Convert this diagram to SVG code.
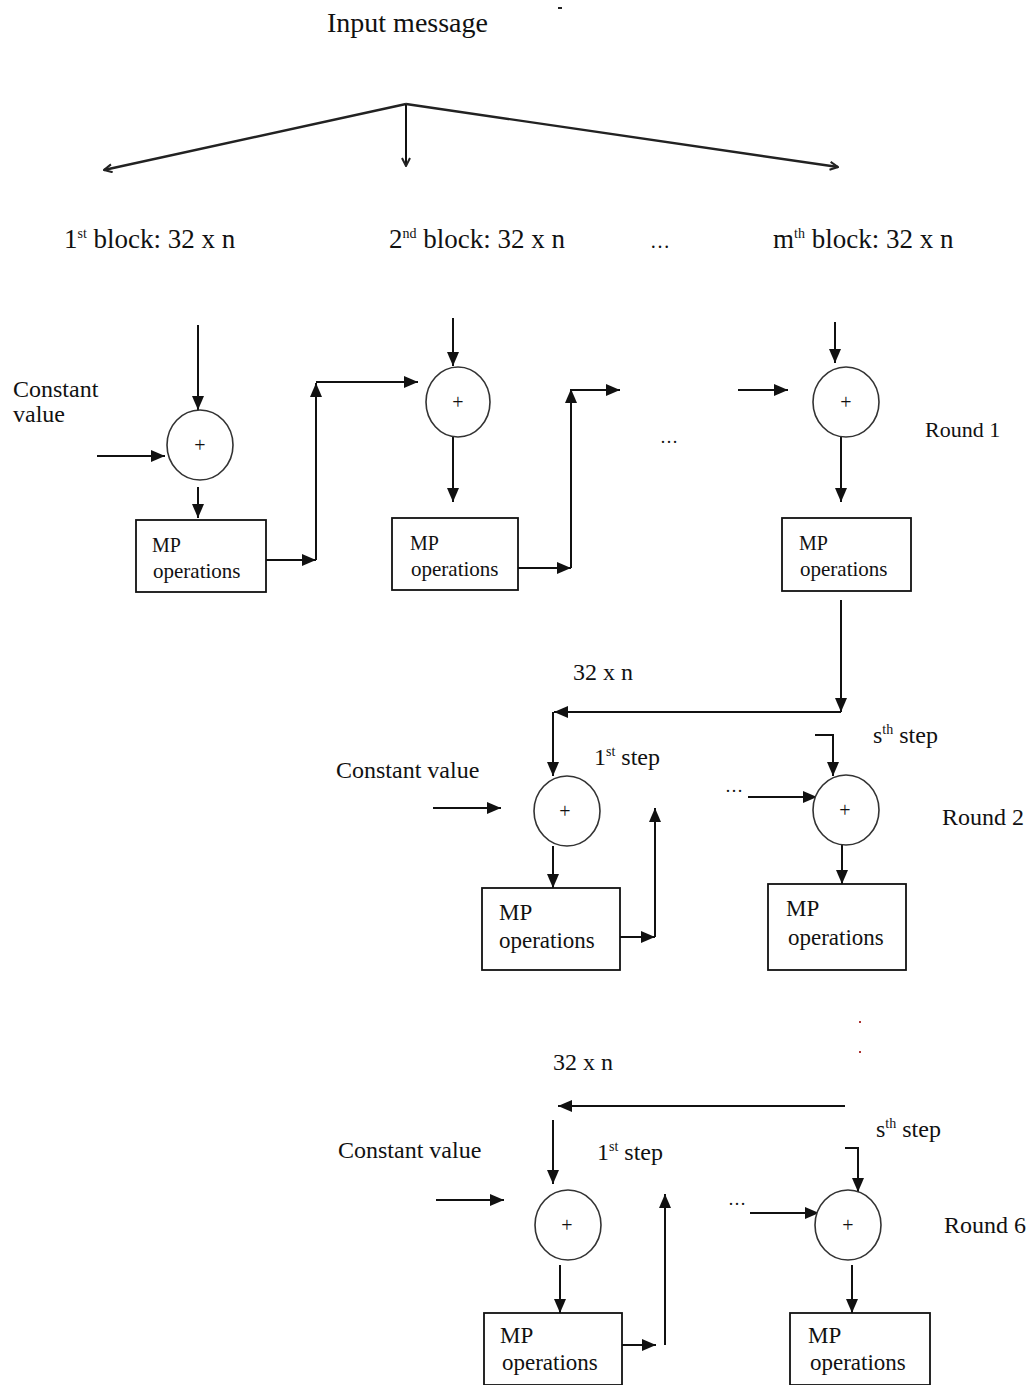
<svg xmlns="http://www.w3.org/2000/svg" width="1031" height="1385" viewBox="0 0 1031 1385">
<style>
text{font-family:"Liberation Serif","Times New Roman",serif;fill:#111}
.c{fill:#fff;stroke:#333;stroke-width:1.6}
.b{fill:#fff;stroke:#111;stroke-width:1.8}
.l{fill:none;stroke:#111;stroke-width:2}
.f{fill:none;stroke:#222;stroke-width:2.4}
.p{font-size:20px}
.sup{font-size:14px}
</style>
<defs>
<marker id="ah" markerWidth="14" markerHeight="12" refX="14" refY="6" orient="auto" markerUnits="userSpaceOnUse"><path d="M0,0 L14,6 L0,12 z" fill="#111"/></marker>
<marker id="av" markerWidth="10" markerHeight="10" refX="9" refY="5" orient="auto" markerUnits="userSpaceOnUse"><path d="M1,1 L9,5 L1,9" fill="none" stroke="#222" stroke-width="2"/></marker>
</defs>
<rect width="1031" height="1385" fill="#fff"/>
<text x="327" y="32" style="font-size:28px">Input message</text>
<rect x="558" y="7" width="4" height="2" fill="#222"/>
<g id="labels">
<text x="64" y="248" style="font-size:27px">1<tspan class="sup" dy="-10">st</tspan><tspan dy="10"> block: 32 x n</tspan></text>
<text x="389" y="248" style="font-size:27px">2<tspan class="sup" dy="-10">nd</tspan><tspan dy="10"> block: 32 x n</tspan></text>
<text x="650" y="248" style="font-size:20px">…</text>
<text x="773" y="248" style="font-size:27px">m<tspan class="sup" dy="-10">th</tspan><tspan dy="10"> block: 32 x n</tspan></text>
<text x="13" y="397" style="font-size:24px">Constant</text>
<text x="13" y="422" style="font-size:24px">value</text>
<text x="660" y="443" style="font-size:18px">…</text>
<text x="925" y="437" style="font-size:22px">Round 1</text>
<text x="573" y="680" style="font-size:24px">32 x n</text>
<text x="336" y="778" style="font-size:24px">Constant value</text>
<text x="594" y="765" style="font-size:24px">1<tspan class="sup" dy="-9">st</tspan><tspan dy="9"> step</tspan></text>
<text x="873" y="743" style="font-size:24px">s<tspan class="sup" dy="-9">th</tspan><tspan dy="9"> step</tspan></text>
<text x="725" y="792" style="font-size:18px">…</text>
<text x="942" y="825" style="font-size:24px">Round 2</text>
<rect x="859" y="1021" width="2" height="2" fill="#a33"/>
<rect x="859" y="1051" width="2" height="2" fill="#a33"/>
<text x="553" y="1070" style="font-size:24px">32 x n</text>
<text x="338" y="1158" style="font-size:24px">Constant value</text>
<text x="597" y="1160" style="font-size:24px">1<tspan class="sup" dy="-9">st</tspan><tspan dy="9"> step</tspan></text>
<text x="876" y="1137" style="font-size:24px">s<tspan class="sup" dy="-9">th</tspan><tspan dy="9"> step</tspan></text>
<text x="728" y="1205" style="font-size:18px">…</text>
<text x="944" y="1233" style="font-size:24px">Round 6</text>
</g>
<g id="connectors">
<path class="f" d="M406,104 L104,170" marker-end="url(#av)"/>
<path class="l" d="M406,104 L406,166" marker-end="url(#av)"/>
<path class="f" d="M406,104 L838,167" marker-end="url(#av)"/>
<path class="l" d="M198,325 L198,410" marker-end="url(#ah)"/>
<path class="l" d="M97,456 L165,456" marker-end="url(#ah)"/>
<path class="l" d="M198,487 L198,518" marker-end="url(#ah)"/>
<path class="l" d="M266,560 L316,560" marker-end="url(#ah)"/>
<path class="l" d="M316,560 L316,383" marker-end="url(#ah)"/>
<path class="l" d="M316,382 L418,382" marker-end="url(#ah)"/>
<path class="l" d="M453,318 L453,366" marker-end="url(#ah)"/>
<path class="l" d="M453,437 L453,502" marker-end="url(#ah)"/>
<path class="l" d="M518,568 L571,568" marker-end="url(#ah)"/>
<path class="l" d="M571,568 L571,389" marker-end="url(#ah)"/>
<path class="l" d="M571,390 L620,390" marker-end="url(#ah)"/>
<path class="l" d="M738,390 L788,390" marker-end="url(#ah)"/>
<path class="l" d="M835,322 L835,363" marker-end="url(#ah)"/>
<path class="l" d="M841,437 L841,502" marker-end="url(#ah)"/>
<path class="l" d="M841,600 L841,712" marker-end="url(#ah)"/>
<path class="l" d="M841,712 L554,712" marker-end="url(#ah)"/>
<path class="l" d="M553,712 L553,776" marker-end="url(#ah)"/>
<path class="l" d="M433,808 L501,808" marker-end="url(#ah)"/>
<path class="l" d="M553,846 L553,888" marker-end="url(#ah)"/>
<path class="l" d="M620,937 L655,937" marker-end="url(#ah)"/>
<path class="l" d="M655,937 L655,808" marker-end="url(#ah)"/>
<path class="l" d="M815,735 L833,735 L833,776" marker-end="url(#ah)"/>
<path class="l" d="M748,797 L817,797" marker-end="url(#ah)"/>
<path class="l" d="M842,845 L842,884" marker-end="url(#ah)"/>
<path class="l" d="M845,1106 L558,1106" marker-end="url(#ah)"/>
<path class="l" d="M553,1120 L553,1184" marker-end="url(#ah)"/>
<path class="l" d="M436,1200 L504,1200" marker-end="url(#ah)"/>
<path class="l" d="M560,1265 L560,1313" marker-end="url(#ah)"/>
<path class="l" d="M622,1345 L656,1345" marker-end="url(#ah)"/>
<path class="l" d="M665,1345 L665,1194" marker-end="url(#ah)"/>
<path class="l" d="M845,1148 L858,1148 L858,1192" marker-end="url(#ah)"/>
<path class="l" d="M750,1213 L819,1213" marker-end="url(#ah)"/>
<path class="l" d="M852,1265 L852,1313" marker-end="url(#ah)"/>
</g>
<g id="sum1"><ellipse class="c" cx="200" cy="445" rx="33" ry="35"/><text class="p" x="200" y="452" text-anchor="middle">+</text></g>
<g id="mp1"><rect class="b" x="136" y="520" width="130" height="72"/><text x="152" y="552" style="font-size:20px">MP</text><text x="153" y="578" style="font-size:21px">operations</text></g>
<g id="sum2"><ellipse class="c" cx="458" cy="402" rx="32" ry="35"/><text class="p" x="458" y="409" text-anchor="middle">+</text></g>
<g id="mp2"><rect class="b" x="392" y="518" width="126" height="72"/><text x="410" y="550" style="font-size:20px">MP</text><text x="411" y="576" style="font-size:21px">operations</text></g>
<g id="sum3"><ellipse class="c" cx="846" cy="402" rx="33" ry="35"/><text class="p" x="846" y="409" text-anchor="middle">+</text></g>
<g id="mp3"><rect class="b" x="782" y="518" width="129" height="73"/><text x="799" y="550" style="font-size:20px">MP</text><text x="800" y="576" style="font-size:21px">operations</text></g>
<g id="r2sum1"><ellipse class="c" cx="567" cy="811" rx="33" ry="35"/><text class="p" x="565" y="818" text-anchor="middle">+</text></g>
<g id="r2mp1"><rect class="b" x="482" y="888" width="138" height="82"/><text x="499" y="920" style="font-size:23px">MP</text><text x="499" y="948" style="font-size:23px">operations</text></g>
<g id="r2sum2"><ellipse class="c" cx="846" cy="810" rx="33" ry="35"/><text class="p" x="845" y="817" text-anchor="middle">+</text></g>
<g id="r2mp2"><rect class="b" x="768" y="884" width="138" height="86"/><text x="786" y="916" style="font-size:23px">MP</text><text x="788" y="945" style="font-size:23px">operations</text></g>
<g id="r6sum1"><ellipse class="c" cx="568" cy="1225" rx="33" ry="35"/><text class="p" x="567" y="1232" text-anchor="middle">+</text></g>
<g id="r6mp1"><rect class="b" x="484" y="1313" width="138" height="72"/><text x="500" y="1343" style="font-size:23px">MP</text><text x="502" y="1370" style="font-size:23px">operations</text></g>
<g id="r6sum2"><ellipse class="c" cx="848" cy="1225" rx="33" ry="35"/><text class="p" x="848" y="1232" text-anchor="middle">+</text></g>
<g id="r6mp2"><rect class="b" x="790" y="1313" width="140" height="72"/><text x="808" y="1343" style="font-size:23px">MP</text><text x="810" y="1370" style="font-size:23px">operations</text></g>
</svg>
